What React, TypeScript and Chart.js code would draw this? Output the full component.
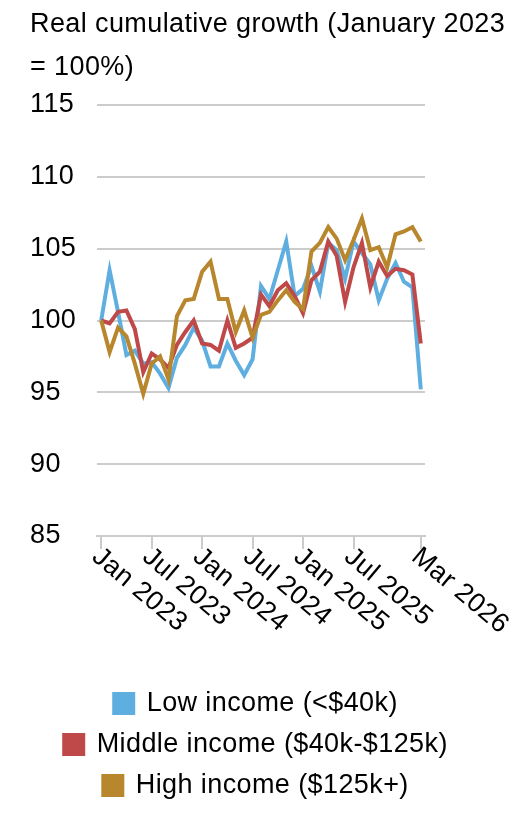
import React, { useEffect, useRef } from 'react';
import { Chart, registerables } from 'chart.js';

Chart.register(...registerables);

const FONT = '"Liberation Sans", Arial, sans-serif';
const TEXT_SIZE = 27;
const SPACING = '0.4px';

const months = [
  'Jan 2023', 'Feb 2023', 'Mar 2023', 'Apr 2023', 'May 2023', 'Jun 2023',
  'Jul 2023', 'Aug 2023', 'Sep 2023', 'Oct 2023', 'Nov 2023', 'Dec 2023',
  'Jan 2024', 'Feb 2024', 'Mar 2024', 'Apr 2024', 'May 2024', 'Jun 2024',
  'Jul 2024', 'Aug 2024', 'Sep 2024', 'Oct 2024', 'Nov 2024', 'Dec 2024',
  'Jan 2025', 'Feb 2025', 'Mar 2025', 'Apr 2025', 'May 2025', 'Jun 2025',
  'Jul 2025', 'Aug 2025', 'Sep 2025', 'Oct 2025', 'Nov 2025', 'Dec 2025',
  'Jan 2026', 'Feb 2026', 'Mar 2026',
];

// only these months get a tick and a label
const shownTicks = ['Jan 2023', 'Jul 2023', 'Jan 2024', 'Jul 2024', 'Jan 2025', 'Jul 2025', 'Mar 2026'];

const lowIncome = [
  100, 103.5, 100.6, 97.6, 97.9, 97.0, 97.1, 96.3, 95.3, 97.4,
  98.3, 99.5, 98.6, 96.8, 96.8, 98.4, 97.2, 96.2, 97.3, 102.4,
  101.5, 103.5, 105.5, 101.7, 102.2, 103.8, 102.0, 105.4, 104.9, 102.9,
  105.5, 104.7, 103.9, 101.4, 102.9, 104.0, 102.7, 102.3, 95.2,
];

const middleIncome = [
  100, 99.8, 100.6, 100.7, 99.4, 96.4, 97.7, 97.3, 96.7, 98.3,
  99.2, 100.0, 98.4, 98.3, 97.9, 100.0, 98.1, 98.4, 98.8, 101.8,
  101.0, 102.1, 102.6, 101.7, 100.5, 102.8, 103.4, 105.5, 104.5, 101.3,
  103.7, 105.4, 102.3, 104.1, 103.1, 103.6, 103.5, 103.2, 98.4,
];

const highIncome = [
  100, 97.8, 99.5, 98.9, 97.0, 94.9, 97.0, 97.5, 95.9, 100.3,
  101.4, 101.5, 103.4, 104.1, 101.5, 101.5, 99.2, 100.7, 98.8, 100.4,
  100.6, 101.4, 102.1, 101.3, 100.8, 104.8, 105.4, 106.5, 105.7, 104.2,
  105.6, 107.1, 104.9, 105.1, 103.7, 106.0, 106.2, 106.5, 105.5,
];

const seriesNames = ['Low income (<$40k)', 'Middle income ($40k-$125k)', 'High income ($125k+)'];
const seriesColors = ['#5FAEE0', '#BF4848', '#B8862C'];

// the reference text is set a little loose
const textSpacing = {
  id: 'textSpacing',
  beforeUpdate(chart: Chart) {
    (chart.ctx as any).letterSpacing = SPACING;
  },
  beforeDraw(chart: Chart) {
    (chart.ctx as any).letterSpacing = SPACING;
  },
};

// labels start at the tick and run down to the right
const rotatedXLabels = {
  id: 'rotatedXLabels',
  afterDraw(chart: Chart) {
    const scale = chart.scales.x;
    const ctx = chart.ctx;
    ctx.save();
    ctx.font = `${TEXT_SIZE}px ${FONT}`;
    ctx.fillStyle = '#000';
    ctx.textAlign = 'left';
    ctx.textBaseline = 'top';
    scale.ticks.forEach((tick, i) => {
      const px = scale.getPixelForTick(i);
      ctx.save();
      ctx.translate(px + 3, scale.top + 7);
      ctx.rotate((40 * Math.PI) / 180);
      ctx.fillText(scale.getLabelForValue(tick.value as number), 0, 0);
      ctx.restore();
    });
    ctx.restore();
  },
};

export default function App() {
  const canvasRef = useRef<HTMLCanvasElement>(null);
  const chartRef = useRef<Chart | null>(null);

  useEffect(() => {
    if (!canvasRef.current) return;
    if (chartRef.current) chartRef.current.destroy();

    const values = [lowIncome, middleIncome, highIncome];

    chartRef.current = new Chart(canvasRef.current, {
      type: 'line',
      data: {
        labels: months,
        datasets: values.map((data, i) => ({
          label: seriesNames[i],
          data,
          borderColor: seriesColors[i],
          backgroundColor: seriesColors[i],
          borderWidth: 4,
          pointRadius: 0,
          tension: 0,
          order: 3 - i,
        })),
      },
      options: {
        animation: false,
        responsive: true,
        maintainAspectRatio: false,
        layout: { padding: { top: 105, left: 30, right: 46, bottom: 28 } },
        plugins: {
          tooltip: { enabled: false },
          legend: {
            position: 'bottom',
            align: 'center',
            labels: {
              color: '#000',
              font: { family: FONT, size: TEXT_SIZE },
              boxWidth: 19,
              boxHeight: 19,
              padding: 14,
              sort: (a, b) => a.datasetIndex - b.datasetIndex,
            },
          },
        },
        scales: {
          x: {
            offset: true,
            afterBuildTicks: (scale) => {
              scale.ticks = scale.ticks.filter((t) => shownTicks.includes(months[t.value as number]));
            },
            afterFit: (scale) => {
              scale.height = 140;
            },
            ticks: { display: false, autoSkip: false },
            grid: {
              drawOnChartArea: false,
              drawTicks: true,
              tickLength: 13,
              color: '#cccccc',
              lineWidth: 2,
            },
            border: { display: true, color: '#cccccc', width: 2 },
          },
          y: {
            min: 85,
            max: 115,
            afterFit: (scale) => {
              scale.width = 67;
            },
            ticks: {
              stepSize: 5,
              color: '#000',
              crossAlign: 'far',
              font: { family: FONT, size: TEXT_SIZE },
            },
            grid: { color: '#cccccc', lineWidth: 2, drawTicks: false },
            border: { display: false },
          },
          // empty right-hand axis, only keeps room on the right of the plot
          y2: {
            position: 'right',
            afterFit: (scale) => {
              scale.width = 57;
            },
            ticks: { display: false },
            grid: { display: false },
            border: { display: false },
          },
        },
      },
      plugins: [textSpacing, rotatedXLabels],
    });

    return () => {
      if (chartRef.current) {
        chartRef.current.destroy();
        chartRef.current = null;
      }
    };
  }, []);

  return (
    <div style={{ position: 'fixed', left: 0, top: 0, width: 528, height: 837, background: '#fff' }}>
      <canvas ref={canvasRef}></canvas>
      <div
        style={{
          position: 'absolute',
          left: 30,
          top: 2,
          fontFamily: FONT,
          fontSize: TEXT_SIZE,
          lineHeight: '43px',
          letterSpacing: SPACING,
          color: '#000',
          whiteSpace: 'nowrap',
          pointerEvents: 'none',
        }}
      >
        Real cumulative growth (January 2023
        <br />= 100%)
      </div>
    </div>
  );
}
